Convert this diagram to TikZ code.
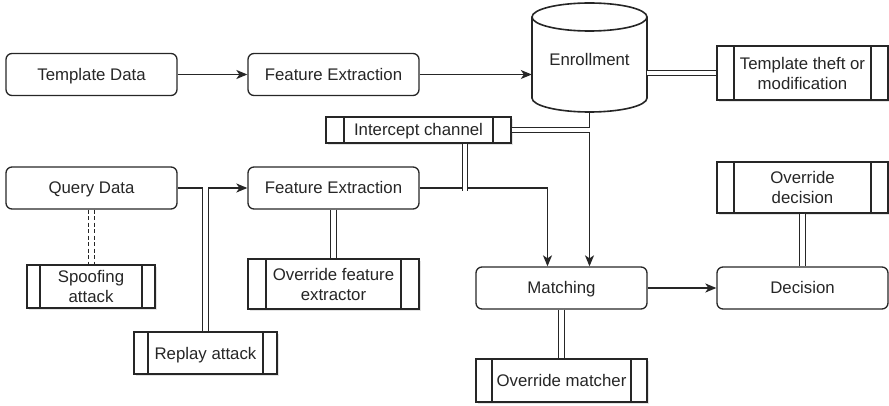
\documentclass[tikz,border=0pt]{standalone}
\usepackage{fontspec}
\setmainfont{Liberation Sans}
\usetikzlibrary{arrows.meta,shadows,calc}
\definecolor{ink}{HTML}{262626}
\tikzset{
  base/.style={draw=ink, line width=1.3pt, text=ink,
    font=\fontsize{16.8}{20}\selectfont, align=center, inner sep=2pt},
  oneline/.style={text height=12pt, text depth=0pt},
  proc/.style={base, oneline, rounded corners=6pt, minimum width=171pt, minimum height=42pt},
  attack/.style={base, fill=white,
    drop shadow={shadow xshift=1.8pt, shadow yshift=-1.8pt, fill=black!18, opacity=0.6},
    path picture={\draw[draw=ink, line width=1.3pt]
      ([xshift=#1]path picture bounding box.north west) -- ([xshift=#1]path picture bounding box.south west)
      ([xshift=-#1]path picture bounding box.north east) -- ([xshift=-#1]path picture bounding box.south east);}},
  attack/.default=17pt,
  flow/.style={draw=ink, line width=1.3pt, -{Stealth[length=11pt,width=9pt,inset=3pt]}},
  threat/.style={draw=ink, line width=1.2pt, double=white, double distance=4.5pt},
  spoofline/.style={draw=ink, line width=1.2pt, dash pattern=on 4pt off 2.5pt},
}
\begin{document}
\begin{tikzpicture}[x=1pt,y=-1pt]
\useasboundingbox (0,0) rectangle (889,406);

% enrollment store (cylinder drawn by hand around an invisible node)
\node[minimum width=115pt, minimum height=109pt, inner sep=0pt] (enr) at (589.5,57.5) {};
\draw[draw=ink, line width=1.6pt, fill=white]
  (532,17) -- (532,98) arc[start angle=180, end angle=360, x radius=57.5pt, y radius=14pt]
  -- (647,17);
\draw[draw=ink, line width=1.6pt] (589.5,17) ellipse [x radius=57.5pt, y radius=14pt];
\node[text=ink, font=\fontsize{16.8}{20}\selectfont, oneline] at (589.5,60) {Enrollment};

% main processing chain
\node[proc] (td)  at (91.5,74.5) {Template Data};
\node[proc] (fe1) at (333.5,74.5) {Feature Extraction};
\node[proc] (qd)  at (91.5,188) {Query Data};
\node[proc] (fe2) at (333.5,188) {Feature Extraction};
\node[proc] (match) at (561.5,288) {Matching};
\node[proc] (dec) at (802.5,288) {Decision};

% attack points
\node[attack, minimum width=171pt, minimum height=54pt] (theft) at (802.5,73) {Template theft or\\modification};
\node[attack=18pt, oneline, minimum width=185pt, minimum height=26pt, inner sep=0pt] (icp) at (418.5,130) {Intercept channel};
\node[attack, minimum width=171pt, minimum height=51pt] (odec) at (802.5,187.5) {Override\\decision};
\node[attack=13pt, minimum width=128pt, minimum height=43pt] (spoof) at (91,286.5) {Spoofing\\attack};
\node[attack=18pt, minimum width=171pt, minimum height=50pt] (ofe) at (333.5,284) {Override feature\\extractor};
\node[attack=14pt, oneline, minimum width=143pt, minimum height=42pt] (replay) at (205.5,353) {Replay attack};
\node[attack=16pt, oneline, minimum width=171pt, minimum height=43pt] (omat) at (561.5,380.5) {Override matcher};

% junction points on the data paths
\coordinate (tapq) at (replay.north |- qd.east);
\coordinate (tapm) at (465,188);
\coordinate (bend) at ([xshift=-14pt]match.north);

% data flow
\draw[flow] (td) -- (fe1);
\draw[flow] (fe1.east) -- (fe1.east -| enr.west);
\draw[flow] (qd) -- (fe2);
\draw[flow] (fe2.east) -| (bend);
\draw[flow] (enr.south) -- (enr.south |- match.north);
\draw[flow] (match) -- (dec);

% attack links
\draw[threat] (theft.west -| enr.east) -- (theft.west);
\draw[threat] (icp.east) -- (icp.east -| enr.south);
\draw[threat] (icp.south -| tapm) -- ([yshift=-3pt]tapm);
\draw[threat] (replay.north) -- ([yshift=1pt]tapq);
\draw[spoofline] ([xshift=-3pt]qd.south) -- ([xshift=-3pt]spoof.north -| qd.south);
\draw[spoofline] ([xshift=3pt]qd.south) -- ([xshift=3pt]spoof.north -| qd.south);
\draw[threat] (fe2.south) -- (ofe.north);
\draw[threat] (match.south) -- (omat.north);
\draw[threat] (odec.south) -- (dec.north);
\end{tikzpicture}
\end{document}
